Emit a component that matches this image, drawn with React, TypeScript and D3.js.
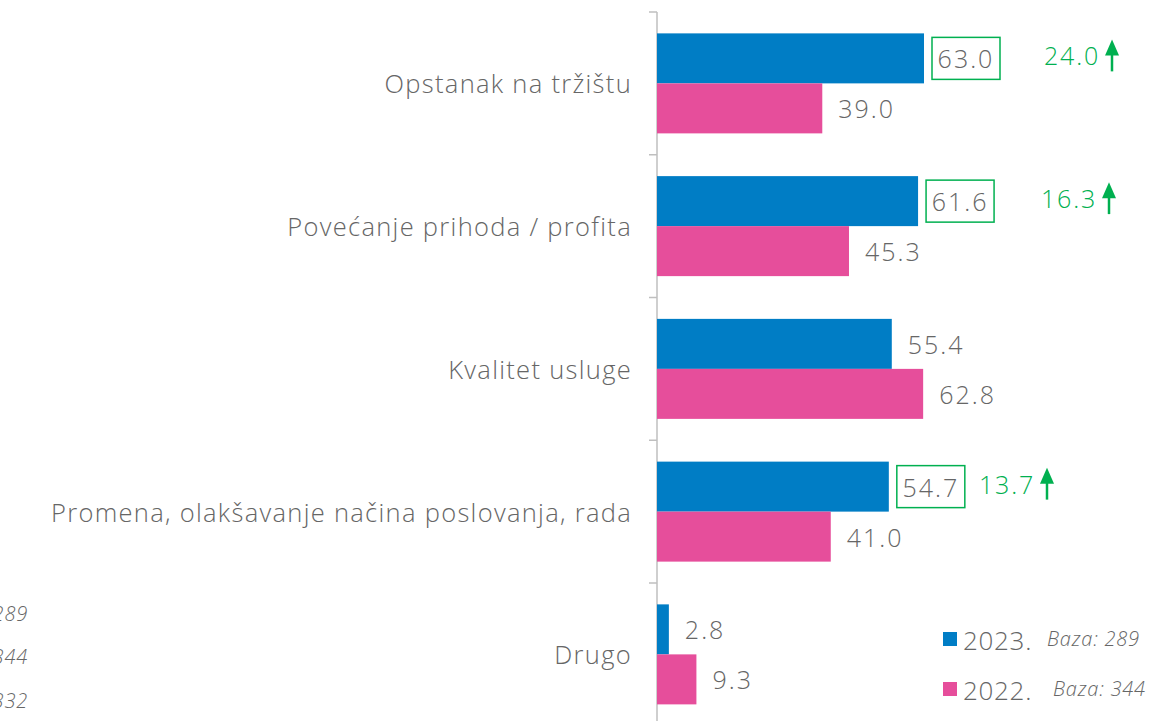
import React from "react";
import * as d3 from "d3";

const categories = [
  "Opstanak na tržištu",
  "Povećanje prihoda / profita",
  "Kvalitet usluge",
  "Promena, olakšavanje načina poslovanja, rada",
  "Drugo",
];
const values2023 = [63.0, 61.6, 55.4, 54.7, 2.8];
const values2022 = [39.0, 45.3, 62.8, 41.0, 9.3];
const deltas: (number | null)[] = [24.0, 16.3, null, 13.7, null];
const seriesNames = ["2023.", "2022."];
const bases = ["Baza: 289", "Baza: 344"];
const cutBases = ["Baza: 289", "Baza: 344", "Baza: 332"];

// layout constants
const W = 1152;
const H = 721;
const X0 = 657;
const BLUE = "#007DC5";
const PINK = "#E64E9B";
const GRAY = "#666666";
const GREEN = "#00B050";
const FONT = "'Open Sans', sans-serif";
const WEIGHT = 300;
const deltaRight = [1100, 1097, 0, 1035];

export default function App() {
  const x = d3.scaleLinear().domain([0, 63]).range([X0, 924]);
  const y = d3
    .scaleBand<string>()
    .domain(categories)
    .range([12, 12 + 142.75 * 5])
    .paddingInner(0)
    .paddingOuter(0);
  const barH = 50;
  const band = y.bandwidth();
  const fmt = d3.format(".1f");

  return (
    <svg
      width={W}
      height={H}
      style={{ position: "absolute", left: 0, top: 0, background: "#fff" }}
      fontFamily={FONT}
      fontWeight={WEIGHT}
    >
      {/* axis */}
      <line x1={X0} x2={X0} y1={12} y2={H} stroke="#BFBFBF" strokeWidth={1.5} />
      {categories.map((c, i) => (
        <line key={"t" + i} x1={X0 - 8} x2={X0} y1={y(c)!} y2={y(c)!} stroke="#BFBFBF" strokeWidth={1.5} />
      ))}
      {categories.map((c, i) => {
        const top = y(c)! + (band - 2 * barH) / 2;
        const v1 = values2023[i];
        const v2 = values2022[i];
        const d = deltas[i];
        const lx1 = x(v1) + 16;
        const lx2 = x(v2) + 16;
        return (
          <g key={c}>
            <text
              x={632}
              y={y(c)! + band / 2}
              textAnchor="end"
              dominantBaseline="central"
              fontSize={25.5}
              letterSpacing={1.3}
              fill={GRAY}
            >
              {c}
            </text>
            <rect x={X0} y={top} width={x(v1) - X0} height={barH} fill={BLUE} />
            <rect x={X0} y={top + barH} width={x(v2) - X0} height={barH} fill={PINK} />
            {d !== null && (
              <rect
                x={x(v1) + 8}
                y={top + 4}
                width={68}
                height={42}
                fill="none"
                stroke={GREEN}
                strokeWidth={1.5}
              />
            )}
            <text
              x={d !== null ? x(v1) + 42 : lx1}
              y={top + barH / 2}
              textAnchor={d !== null ? "middle" : "start"}
              dominantBaseline="central"
              fontSize={25}
              letterSpacing={2}
              fill={GRAY}
            >
              {fmt(v1)}
            </text>
            <text
              x={lx2}
              y={top + barH * 1.5}
              dominantBaseline="central"
              fontSize={25}
              letterSpacing={2}
              fill={GRAY}
            >
              {fmt(v2)}
            </text>
            {d !== null && (
              <g>
                <text
                  x={deltaRight[i]}
                  y={top + 22}
                  textAnchor="end"
                  dominantBaseline="central"
                  fontSize={25}
                  letterSpacing={1.8}
                  fill={GREEN}
                >
                  {fmt(d)}
                </text>
                <line
                  x1={deltaRight[i] + 12}
                  x2={deltaRight[i] + 12}
                  y1={top + 15}
                  y2={top + 38}
                  stroke={GREEN}
                  strokeWidth={2.5}
                />
                <path
                  d={`M${deltaRight[i] + 5},${top + 22} L${deltaRight[i] + 12},${top + 6} L${deltaRight[i] + 19},${top + 22} Z`}
                  fill={GREEN}
                />
              </g>
            )}
          </g>
        );
      })}
      {/* cut-off base labels at left */}
      {cutBases.map((b, i) => (
        <text
          key={b}
          x={28}
          y={613 + i * 43.5}
          textAnchor="end"
          dominantBaseline="central"
          fontSize={20}
          letterSpacing={0.8}
          fontStyle="italic"
          fill={GRAY}
        >
          {b}
        </text>
      ))}
      {/* legend */}
      {seriesNames.map((s, i) => (
        <g key={s} transform={`translate(943,${632 + i * 50})`}>
          <rect x={0} y={0} width={14} height={14} fill={i === 0 ? BLUE : PINK} />
          <text x={20} y={8} dominantBaseline="central" fontSize={26} letterSpacing={0.7} fill={GRAY}>
            {s}
          </text>
          <text
            x={i === 0 ? 104 : 110}
            y={6}
            dominantBaseline="central"
            fontSize={20}
            letterSpacing={0.8}
            fontStyle="italic"
            fill={GRAY}
          >
            {bases[i]}
          </text>
        </g>
      ))}
    </svg>
  );
}
